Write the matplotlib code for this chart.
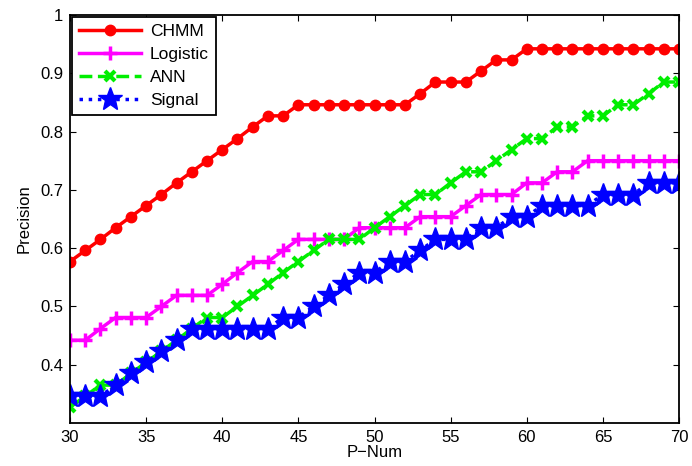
import numpy as np
import matplotlib
matplotlib.use("Agg")
import matplotlib.pyplot as plt

plt.rcParams["font.family"] = ["Liberation Sans", "DejaVu Sans"]

p_num = list(range(30, 71))

chmm = [0.577, 0.596, 0.615, 0.635, 0.654, 0.673, 0.692, 0.712, 0.731, 0.750,
        0.769, 0.788, 0.808, 0.827, 0.827, 0.846, 0.846, 0.846, 0.846, 0.846,
        0.846, 0.846, 0.846, 0.865, 0.885, 0.885, 0.885, 0.904, 0.923, 0.923,
        0.942, 0.942, 0.942, 0.942, 0.942, 0.942, 0.942, 0.942, 0.942, 0.942,
        0.942]

logistic = [0.442, 0.442, 0.462, 0.481, 0.481, 0.481, 0.500, 0.519, 0.519, 0.519,
            0.538, 0.558, 0.577, 0.577, 0.596, 0.615, 0.615, 0.615, 0.615, 0.635,
            0.635, 0.635, 0.635, 0.654, 0.654, 0.654, 0.673, 0.692, 0.692, 0.692,
            0.712, 0.712, 0.731, 0.731, 0.750, 0.750, 0.750, 0.750, 0.750, 0.750,
            0.750]

ann = [0.327, 0.346, 0.365, 0.365, 0.385, 0.404, 0.423, 0.442, 0.462, 0.481,
       0.481, 0.500, 0.519, 0.538, 0.558, 0.577, 0.596, 0.615, 0.615, 0.615,
       0.635, 0.654, 0.673, 0.692, 0.692, 0.712, 0.731, 0.731, 0.750, 0.769,
       0.788, 0.788, 0.808, 0.808, 0.827, 0.827, 0.846, 0.846, 0.865, 0.885,
       0.885]

signal = [0.346, 0.346, 0.346, 0.365, 0.385, 0.404, 0.423, 0.442, 0.462, 0.462,
          0.462, 0.462, 0.462, 0.462, 0.481, 0.481, 0.500, 0.519, 0.538, 0.558,
          0.558, 0.577, 0.577, 0.596, 0.615, 0.615, 0.615, 0.635, 0.635, 0.654,
          0.654, 0.673, 0.673, 0.673, 0.673, 0.692, 0.692, 0.692, 0.712, 0.712,
          0.712]

fig = plt.figure(figsize=(6.92, 4.66), dpi=100)
ax = fig.add_axes([70 / 692, 1 - 423 / 466, 609 / 692, 408 / 466])

ax.plot(p_num, chmm, "-o", color="red", lw=2.5, ms=7.5, label="CHMM")
ax.plot(p_num, logistic, "-+", color="magenta", lw=2.5, ms=10, mew=2.5, label="Logistic")
ax.plot(p_num, ann, "--x", color="#00ee00", lw=2.5, ms=7, mew=3, label="ANN")
ax.plot(p_num, signal, ":*", color="blue", lw=2.5, ms=18, label="Signal")

ax.set_xlim(30, 70)
ax.set_ylim(0.3, 1.0)
ax.set_xticks(range(30, 71, 5))
ax.set_yticks([0.4, 0.5, 0.6, 0.7, 0.8, 0.9, 1.0])
ax.set_yticklabels(["0.4", "0.5", "0.6", "0.7", "0.8", "0.9", "1"])
ax.tick_params(direction="in", top=True, right=True, labelsize=12, length=4, pad=5)
for s in ax.spines.values():
    s.set_linewidth(1.3)

ax.set_xlabel("P\u2212Num", fontsize=12, labelpad=0)
ax.set_ylabel("Precision", fontsize=12, labelpad=6)

leg = ax.legend(loc="upper left", fontsize=12.5, fancybox=False, framealpha=1,
                edgecolor="black", borderaxespad=0.1, handlelength=3.6,
                labelspacing=0.45, borderpad=0.4, handletextpad=0.5)
leg.get_frame().set_linewidth(1.3)

plt.savefig("out.png", dpi=100)
